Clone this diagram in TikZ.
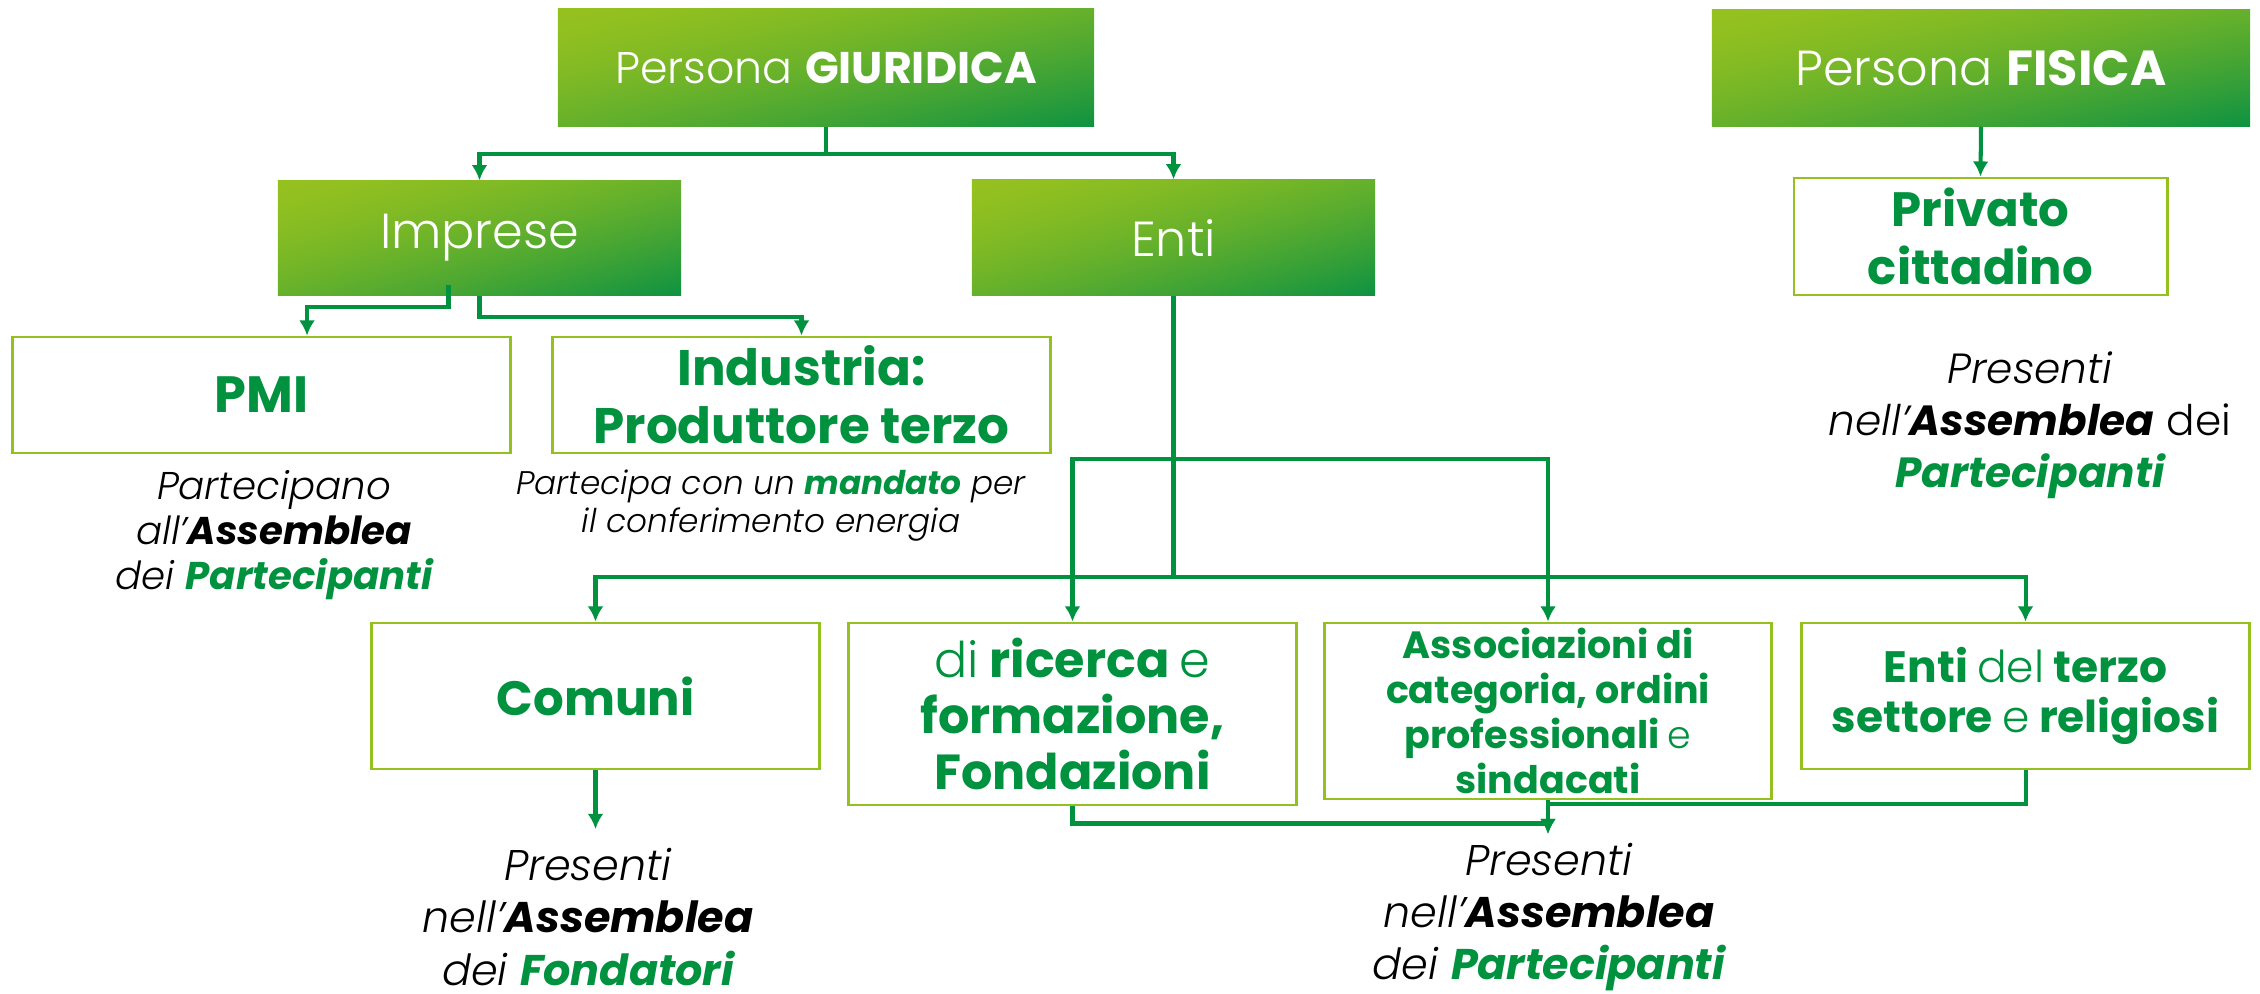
\documentclass[tikz,border=0pt]{standalone}
\usepackage{fontspec}
\setmainfont{Poppins}[UprightFont=* Light, BoldFont=* Bold, ItalicFont=* Light Italic, BoldItalicFont=* Bold Italic]
\usetikzlibrary{arrows.meta}

\definecolor{lightgreen}{RGB}{149,193,31}
\definecolor{darkgreen}{RGB}{0,146,63}
\newcommand{\gr}[1]{\textcolor{darkgreen}{#1}}
\newcommand{\lt}[1]{{\mdseries #1}}
\newcommand{\fsize}[2]{\fontsize{#1}{#2}\selectfont}

% diagonal gradient: light top left, dark bottom right
\pgfdeclarefunctionalshading{boxgrad}{\pgfpoint{0bp}{0bp}}{\pgfpoint{100bp}{100bp}}{}{
  sub 50 add 100 div
  dup abs sqrt mul
  dup -0.529 mul 0.584 add exch
  dup -0.184 mul 0.757 add exch
  0.137 mul 0.122 add
}

\begin{document}
\begin{tikzpicture}[
    x=0.01cm, y=-0.01cm,
    gradbox/.style={rectangle, inner sep=0pt, shade, shading=boxgrad, text=white, align=center},
    leafbox/.style={rectangle, inner sep=0pt, draw=lightgreen, line width=0.8pt, fill=white,
      text=darkgreen, align=center, font=\fsize{13.7}{16.4}\bfseries},
    note/.style={align=center, inner sep=0pt, font=\fsize{12.2}{14.9}\itshape},
    link/.style={draw=darkgreen, line width=1.15pt},
    conn/.style={link, -{Latex[length=4.3pt,width=4.5pt]}}
  ]
  \useasboundingbox (0,0) rectangle (2260,993);

  % bus levels and free arrow ends
  \coordinate (upbus) at (0,459);
  \coordinate (lowbus) at (0,577);
  \coordinate (fondtip) at (595.5,829);
  \coordinate (parttip) at (1548,834);

  % top row
  \node[gradbox, minimum width=5.36cm, minimum height=1.17cm, font=\fsize{12.6}{15}] (giur) at (826,67.5) {Persona \textbf{GIURIDICA}};
  \node[gradbox, minimum width=5.38cm, minimum height=1.16cm, font=\fsize{14}{16}] (fisica) at (1981,68) {Persona \textbf{FISICA}};

  % second row
  \node[gradbox, minimum width=4.03cm, minimum height=1.14cm, font=\fsize{14}{16}] (imprese) at (479.5,238) {Imprese};
  \node[gradbox, minimum width=4.03cm, minimum height=1.15cm, font=\fsize{14}{16}] (enti) at (1173.5,237.5) {Enti};
  \node[leafbox, minimum width=3.73cm, minimum height=1.17cm] (privato) at (1980.5,236.5) {Privato\\cittadino};

  % imprese
  \node[leafbox, minimum width=4.97cm, minimum height=1.16cm, font=\fsize{14.5}{16.5}\bfseries] (pmi) at (261.5,395) {PMI};
  \node[leafbox, minimum width=4.97cm, minimum height=1.16cm, font=\fsize{14.2}{16.5}\bfseries] (industria) at (801.5,395) {Industria:\\Produttore terzo};

  % notes
  \node[note, font=\fsize{11}{12.8}\itshape] (pminote) at (274,535) {Partecipano\\all’\textbf{Assemblea}\\dei \gr{\textbf{Partecipanti}}};
  \node[note, font=\fsize{9.3}{10.8}\itshape] (indnote) at (771,506) {Partecipa con un \gr{\textbf{mandato}} per\\il conferimento energia};
  \node[note, font=\fsize{12}{14.8}\itshape] (fisnote) at (2030,425) {Presenti\\nell’\textbf{Assemblea} {\upshape dei}\\\gr{\textbf{Partecipanti}}};

  % enti
  \node[leafbox, minimum width=4.47cm, minimum height=1.46cm] (comuni) at (595.5,696) {Comuni};
  \node[leafbox, minimum width=4.47cm, minimum height=1.82cm, font=\fsize{14}{15.9}\bfseries] (ricerca) at (1072.5,714) {\lt{di} ricerca \lt{e}\\formazione,\\Fondazioni};
  \node[leafbox, minimum width=4.46cm, minimum height=1.76cm, font=\fsize{10.8}{12.8}\bfseries] (assoc) at (1548,711) {Associazioni di\\categoria, ordini\\professionali \lt{e}\\sindacati};
  \node[leafbox, minimum width=4.47cm, minimum height=1.46cm, font=\fsize{12.5}{14.2}\bfseries] (terzo) at (2025.5,696) {Enti \lt{del} terzo\\settore \lt{e} religiosi};

  % assemblee
  \node[note] (fondnote) at (588,917) {Presenti\\nell’\textbf{Assemblea}\\dei \gr{\textbf{Fondatori}}};
  \node[note] (partnote) at (1549,917) {Presenti\\nell’\textbf{Assemblea}\\dei \gr{\textbf{Partecipanti}}};

  % persona giuridica
  \draw[conn] (giur.south) -- ++(0,27) -| (imprese.north);
  \draw[conn] (giur.south) -- ++(0,27) -| (enti.north);

  % persona fisica
  \draw[conn] (fisica.south) -- (privato.north);

  % imprese
  \draw[conn] ([xshift=-0.31cm,yshift=0.11cm]imprese.south) -- ++(0,22) -| ([xshift=0.455cm]pmi.north);
  \draw[conn] (imprese.south) -- ++(0,21) -| (industria.north);

  % enti
  \draw[link] (enti.south) -- (enti.south |- lowbus);
  \draw[conn] (enti.south |- lowbus) -| (comuni.north);
  \draw[conn] (enti.south |- lowbus) -| (terzo.north);
  \draw[conn] (enti.south |- upbus) -| (ricerca.north);
  \draw[conn] (enti.south |- upbus) -| (assoc.north);

  % assemblee
  \draw[conn] (comuni.south) -- (fondtip);
  \draw[conn] (ricerca.south) -- ++(0,17) -| (parttip);
  \draw[conn] (assoc.south) -- (parttip);
  \draw[link] (terzo.south) -- ++(0,34) -| (assoc.south);
\end{tikzpicture}
\end{document}
